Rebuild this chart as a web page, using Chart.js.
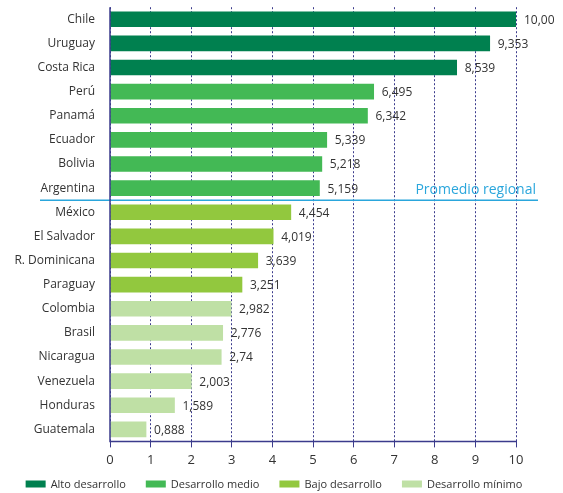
<!DOCTYPE html>
<html>
<head>
<meta charset="utf-8">
<script src="https://cdn.jsdelivr.net/npm/chart.js@4"></script>
<style>
  html, body { margin: 0; padding: 0; background: #fff; }
  #wrap { width: 563px; height: 493px; }
</style>
</head>
<body>
<div id="wrap"><canvas id="devChart"></canvas></div>
<script>
// Data
const countries = ["Chile", "Uruguay", "Costa Rica", "Perú", "Panamá", "Ecuador", "Bolivia", "Argentina",
    "México", "El Salvador", "R. Dominicana", "Paraguay", "Colombia", "Brasil", "Nicaragua",
    "Venezuela", "Honduras", "Guatemala"];
const scores = [10.00, 9.353, 8.539, 6.495, 6.342, 5.339, 5.218, 5.159,
    4.454, 4.019, 3.639, 3.251, 2.982, 2.776, 2.74, 2.003, 1.589, 0.888];
const scoreLabels = ["10,00", "9,353", "8,539", "6,495", "6,342", "5,339", "5,218", "5,159",
    "4,454", "4,019", "3,639", "3,251", "2,982", "2,776", "2,74", "2,003", "1,589", "0,888"];
// group index of each country: 0 alto, 1 medio, 2 bajo, 3 mínimo
const groups = [0, 0, 0, 1, 1, 1, 1, 1, 2, 2, 2, 2, 3, 3, 3, 3, 3, 3];
const groupNames = ["Alto desarrollo", "Desarrollo medio", "Bajo desarrollo", "Desarrollo mínimo"];
const groupColors = ["#00804f", "#43b955", "#92c83e", "#bfe0a5"];
const xTicks = [0, 1, 2, 3, 4, 5, 6, 7, 8, 9, 10];
const averageLabel = "Promedio regional";

const FONT = "'Open Sans', 'Noto Sans', sans-serif";
const TEXT = '#333333';
const NAVY = '#3b3b8c';

const datasets = groupNames.map((name, g) => ({
    label: name,
    data: scores.map((v, i) => groups[i] === g ? v : null),
    backgroundColor: groupColors[g],
    borderWidth: 0,
    barThickness: 15
}));

const valueLabels = {
    id: 'valueLabels',
    afterDatasetsDraw(chart) {
        const ctx = chart.ctx;
        ctx.save();
        ctx.font = '12px ' + FONT;
        ctx.fillStyle = TEXT;
        ctx.textBaseline = 'middle';
        chart.data.datasets.forEach((ds, di) => {
            const meta = chart.getDatasetMeta(di);
            meta.data.forEach((bar, i) => {
                if (ds.data[i] == null) return;
                ctx.fillText(scoreLabels[i], bar.x + 8, bar.y + 1);
            });
        });
        ctx.restore();
    }
};

// solid axis lines drawn on top so they are not dashed like the grid
const axisLines = {
    id: 'axisLines',
    afterDraw(chart) {
        const a = chart.chartArea;
        const ctx = chart.ctx;
        ctx.save();
        ctx.strokeStyle = NAVY;
        ctx.lineWidth = 1.5;
        ctx.setLineDash([]);
        ctx.beginPath();
        ctx.moveTo(a.left, a.top);
        ctx.lineTo(a.left, a.bottom);
        ctx.lineTo(a.right, a.bottom);
        ctx.stroke();
        ctx.restore();
    }
};

const averageLine = {
    id: 'averageLine',
    afterDraw(chart) {
        const y = chart.scales.y;
        const area = chart.chartArea;
        const py = (y.getPixelForValue(7) + y.getPixelForValue(8)) / 2;
        const ctx = chart.ctx;
        ctx.save();
        ctx.strokeStyle = '#2aa6dc';
        ctx.lineWidth = 1.5;
        ctx.beginPath();
        ctx.moveTo(40, py);
        ctx.lineTo(area.right + 22, py);
        ctx.stroke();
        ctx.fillStyle = '#2aa6dc';
        ctx.font = '14px ' + FONT;
        ctx.textAlign = 'right';
        ctx.textBaseline = 'bottom';
        ctx.fillText(averageLabel, area.right + 20, py - 3);
        ctx.restore();
    }
};

// one-row legend under the axis, built from the datasets
const bottomLegend = {
    id: 'bottomLegend',
    afterDraw(chart) {
        const ctx = chart.ctx;
        const ds = chart.data.datasets;
        const boxW = 20, boxH = 7, gap = 5, spacing = 20, y = 484;
        ctx.save();
        ctx.font = '11px ' + FONT;
        const widths = ds.map(d => boxW + gap + ctx.measureText(d.label).width);
        const total = widths.reduce((s, w) => s + w, 0) + spacing * (ds.length - 1);
        let x = 274 - total / 2;
        ds.forEach((d, i) => {
            ctx.fillStyle = d.backgroundColor;
            ctx.fillRect(x, y - boxH / 2, boxW, boxH);
            ctx.fillStyle = TEXT;
            ctx.textBaseline = 'middle';
            ctx.fillText(d.label, x + boxW + gap, y + 1);
            x += widths[i] + spacing;
        });
        ctx.restore();
    }
};

new Chart(document.getElementById('devChart'), {
    type: 'bar',
    data: { labels: countries, datasets: datasets },
    options: {
        indexAxis: 'y',
        responsive: true,
        maintainAspectRatio: false,
        animation: false,
        layout: { padding: { top: 7, right: 0, left: 0, bottom: 20 } },
        plugins: {
            legend: { display: false },
            tooltip: { enabled: false }
        },
        scales: {
            x: {
                stacked: true,
                min: 0,
                max: 10,
                afterBuildTicks(scale) { scale.ticks = xTicks.map(v => ({ value: v })); },
                grid: {
                    color: NAVY,
                    lineWidth: 1,
                    tickLength: 6,
                    tickColor: NAVY,
                    tickBorderDash: []
                },
                border: { display: false, dash: [2, 2] },
                ticks: { color: TEXT, font: { family: FONT, size: 13 }, padding: 5 }
            },
            y: {
                stacked: true,
                afterFit(scale) { scale.width = 110; },
                grid: { display: false, drawTicks: true, tickLength: 15 },
                border: { display: false },
                ticks: { color: TEXT, font: { family: FONT, size: 12 }, padding: 0 }
            },
            // empty axis that reserves room on the right for the value labels
            yRight: {
                position: 'right',
                afterFit(scale) { scale.width = 47; },
                grid: { display: false },
                border: { display: false },
                ticks: { display: false }
            }
        }
    },
    plugins: [valueLabels, averageLine, axisLines, bottomLegend]
});
</script>
</body>
</html>
